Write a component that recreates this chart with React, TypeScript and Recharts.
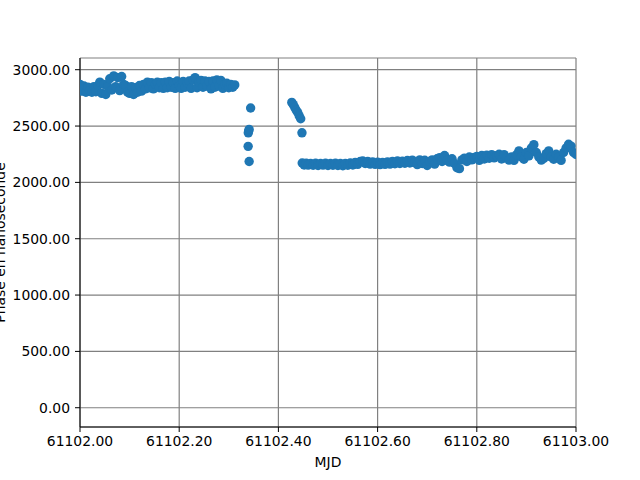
import { ScatterChart, Scatter, XAxis, YAxis, CartesianGrid, Label } from "recharts";

const BASE_MJD = 61102;

// fractions of the day after BASE_MJD, phase in ns
const earlyDay = [
  0.0, 0.004, 0.008, 0.012, 0.016, 0.02, 0.024, 0.028, 0.032, 0.036, 0.04, 0.044, 0.048, 0.052,
  0.056, 0.06, 0.064, 0.068, 0.072, 0.076, 0.08, 0.084, 0.088, 0.092, 0.096, 0.1, 0.104, 0.108,
  0.112, 0.116, 0.12, 0.124, 0.128, 0.132, 0.136, 0.14, 0.144, 0.148, 0.152, 0.156, 0.16, 0.164,
  0.168, 0.172, 0.176, 0.18, 0.184, 0.188, 0.192, 0.196, 0.2, 0.204, 0.208, 0.212, 0.216, 0.22,
  0.224, 0.228, 0.232, 0.236, 0.24, 0.244, 0.248, 0.252, 0.256, 0.26, 0.264, 0.268, 0.272, 0.276,
  0.28, 0.284, 0.288, 0.292, 0.296, 0.3, 0.304, 0.308, 0.312,
];
const earlyPhase = [
  2870, 2810, 2855, 2800, 2845, 2815, 2800, 2850, 2805, 2860, 2890, 2790, 2870, 2780,
  2850, 2920, 2820, 2945, 2850, 2930, 2815, 2940, 2870, 2860, 2800, 2790, 2850, 2780,
  2840, 2800, 2860, 2810, 2870, 2830, 2890, 2840, 2885, 2830, 2870, 2890, 2840, 2885,
  2835, 2890, 2840, 2895, 2845, 2885, 2835, 2900, 2860, 2835, 2895, 2845, 2885, 2900,
  2835, 2910, 2930, 2840, 2890, 2905, 2845, 2900, 2855, 2895, 2830, 2900, 2845, 2910,
  2855, 2905, 2835, 2870, 2880, 2840, 2870, 2845, 2865,
];

const jumpDay = [0.3393, 0.34, 0.341, 0.344, 0.339, 0.341];
const jumpPhase = [2440, 2455, 2470, 2660, 2320, 2185];

const slopeDay = [0.427, 0.43, 0.433, 0.436, 0.439, 0.442, 0.445, 0.4475];
const slopePhase = [2710, 2690, 2665, 2640, 2620, 2590, 2565, 2440];

const lateDay = [
  0.448, 0.452, 0.456, 0.46, 0.465, 0.47, 0.475, 0.48, 0.485, 0.49, 0.495, 0.5, 0.505, 0.51,
  0.515, 0.52, 0.525, 0.53, 0.535, 0.54, 0.545, 0.55, 0.555, 0.56, 0.565, 0.57, 0.575, 0.58,
  0.585, 0.59, 0.595, 0.6, 0.605, 0.61, 0.615, 0.62, 0.625, 0.63, 0.635, 0.64, 0.645, 0.65,
  0.655, 0.66, 0.665, 0.67, 0.675, 0.68, 0.685, 0.69, 0.695, 0.7, 0.705, 0.71, 0.715, 0.72,
  0.725, 0.73, 0.735, 0.74, 0.745, 0.75, 0.755, 0.76, 0.765, 0.77, 0.775, 0.78, 0.785, 0.79,
  0.795, 0.8, 0.805, 0.81, 0.815, 0.82, 0.825, 0.83, 0.835, 0.84, 0.845, 0.85, 0.855, 0.86,
  0.865, 0.87, 0.875, 0.88, 0.885, 0.89, 0.895, 0.9, 0.905, 0.91, 0.915, 0.92, 0.925, 0.93,
  0.935, 0.94, 0.945, 0.95, 0.955, 0.96, 0.965, 0.97, 0.975, 0.98, 0.985, 0.99, 0.995, 1.0,
];
const latePhase = [
  2172, 2155, 2170, 2153, 2168, 2152, 2170, 2150, 2168, 2153, 2170, 2150, 2167, 2152,
  2170, 2150, 2168, 2148, 2167, 2152, 2172, 2155, 2178, 2160, 2185, 2190, 2168, 2186,
  2162, 2182, 2160, 2180, 2158, 2178, 2160, 2182, 2162, 2186, 2165, 2190, 2168, 2188,
  2170, 2194, 2172, 2198, 2175, 2158, 2200, 2168, 2196, 2150, 2185, 2200, 2162, 2210,
  2220, 2185, 2238, 2195, 2180, 2210, 2168, 2130, 2122, 2200, 2215, 2185, 2225, 2200,
  2222, 2230, 2195, 2238, 2208, 2242, 2214, 2246, 2218, 2236, 2250, 2208, 2246, 2218,
  2198, 2226, 2195, 2245, 2280, 2225, 2205, 2265, 2235, 2305, 2335, 2265, 2225, 2198,
  2212, 2255, 2280, 2225, 2205, 2250, 2225, 2195, 2265, 2305, 2338, 2322, 2265, 2248,
];

const xTicks = [61102, 61102.2, 61102.4, 61102.6, 61102.8, 61103];
const yTicks = [0, 500, 1000, 1500, 2000, 2500, 3000];

const FONT = "'DejaVu Sans', sans-serif";
const tickStyle = { fontSize: 13.9, fill: "#000", fontFamily: FONT };

function build(days: number[], phases: number[]) {
  return days.map((d, i) => ({ mjd: BASE_MJD + d, phase: phases[i] }));
}

const points = [
  ...build(earlyDay, earlyPhase),
  ...build(jumpDay, jumpPhase),
  ...build(slopeDay, slopePhase),
  ...build(lateDay, latePhase),
];

const dot = (p: any) => <circle cx={p.cx} cy={p.cy} r={4.7} fill="#1f77b4" />;

export default function App() {
  return (
    <div style={{ position: "absolute", left: 0, top: 0, width: 640, height: 480, background: "#fff" }}>
      <ScatterChart width={640} height={480} margin={{ top: 58, right: 64, bottom: 0, left: 0 }}>
        <CartesianGrid stroke="#808080" strokeWidth={1.2} />
        <XAxis
          type="number"
          dataKey="mjd"
          domain={[61102, 61103]}
          ticks={xTicks}
          tickFormatter={(v: number) => v.toFixed(2)}
          tick={tickStyle}
          tickSize={5}
          tickMargin={4}
          tickLine={{ stroke: "#000" }}
          axisLine={{ stroke: "#000" }}
          height={53}
          allowDataOverflow
        >
          <Label
            content={({ viewBox }: any) => (
              <text
                x={viewBox.x + viewBox.width / 2}
                y={viewBox.y + 40}
                textAnchor="middle"
                fontSize={13.9}
                fontFamily={FONT}
                fill="#000"
              >
                MJD
              </text>
            )}
          />
        </XAxis>
        <XAxis
          xAxisId="top"
          orientation="top"
          type="number"
          dataKey="mjd"
          domain={[61102, 61103]}
          tick={false}
          tickLine={false}
          axisLine={{ stroke: "#000" }}
          height={0}
        />
        <YAxis
          type="number"
          dataKey="phase"
          domain={[-171, 3104]}
          ticks={yTicks}
          tickFormatter={(v: number) => v.toFixed(2)}
          tick={tickStyle}
          tickSize={5}
          tickMargin={5}
          tickLine={{ stroke: "#000" }}
          axisLine={{ stroke: "#000" }}
          width={80}
          allowDataOverflow
        >
          <Label
            content={({ viewBox }: any) => {
              const x = viewBox.x + 5;
              const y = viewBox.y + viewBox.height / 2;
              return (
                <text
                  x={x}
                  y={y}
                  transform={`rotate(-90, ${x}, ${y})`}
                  textAnchor="middle"
                  fontSize={13.9}
                  fontFamily={FONT}
                  fill="#000"
                >
                  Phase en nanoseconde
                </text>
              );
            }}
          />
        </YAxis>
        <YAxis
          yAxisId="right"
          orientation="right"
          type="number"
          dataKey="phase"
          domain={[-171, 3104]}
          tick={false}
          tickLine={false}
          axisLine={{ stroke: "#000" }}
          width={0}
        />
        <Scatter data={points} fill="#1f77b4" shape={dot} isAnimationActive={false} />
      </ScatterChart>
    </div>
  );
}
